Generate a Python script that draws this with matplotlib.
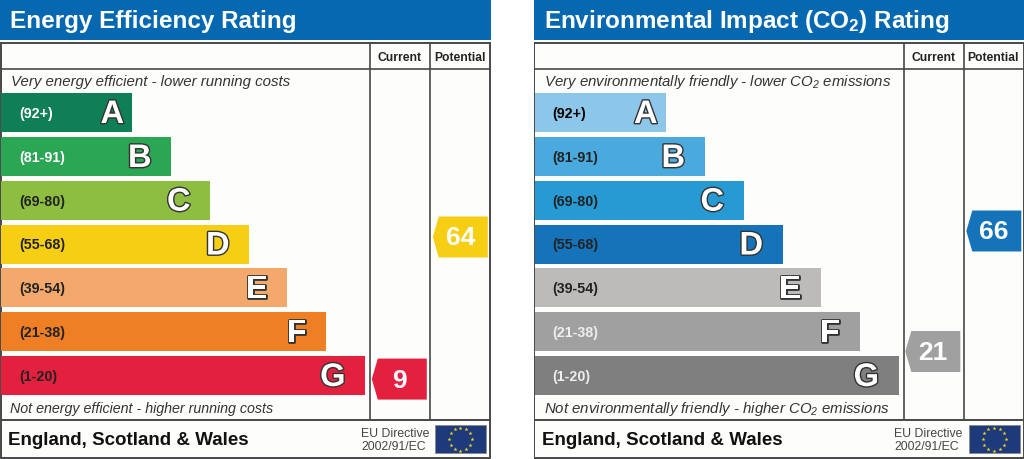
import numpy as np
import matplotlib
matplotlib.use("Agg")
import matplotlib.pyplot as plt
import matplotlib.patheffects as pe
from matplotlib.patches import Polygon, Rectangle

plt.rcParams['font.family'] = ['Liberation Sans', 'DejaVu Sans']
plt.rcParams['mathtext.default'] = 'regular'

# shared bands
letters = ["A", "B", "C", "D", "E", "F", "G"]
ranges = ["(92+)", "(81-91)", "(69-80)", "(55-68)", "(39-54)", "(21-38)", "(1-20)"]
range_low = [92, 81, 69, 55, 39, 21, 1]
range_high = [100, 91, 80, 68, 54, 38, 20]
bar_lengths = [131, 170, 209, 248, 286, 325, 364]

# energy panel
energy_title = "Energy Efficiency Rating"
energy_top = "Very energy efficient - lower running costs"
energy_bottom = "Not energy efficient - higher running costs"
energy_colors = ["#0e7f56", "#2ba655", "#8dbe42", "#f6cf15", "#f3a96b", "#ee7f25", "#e4203f"]
energy_label_colors = ["white", "white", "#222222", "#222222", "#222222", "#222222", "#222222"]
energy_current = 9
energy_potential = 64

# environmental panel
env_title = "Environmental Impact (CO$_2$) Rating"
env_top = "Very environmentally friendly - lower CO$_2$ emissions"
env_bottom = "Not environmentally friendly - higher CO$_2$ emissions"
env_colors = ["#8cc6e8", "#4aa9dd", "#2799d3", "#1573b9", "#bcbbb9", "#a0a0a0", "#7f7f7f"]
env_label_colors = ["black", "#222222", "#222222", "#222222", "#222222", "#eeeeee", "#eeeeee"]
env_current = 21
env_potential = 66

LINE = "#484848"
BLUE = "#0768b2"

band_y = [113.5, 157.5, 201.2, 245, 288.8, 332.5, 376.5]


def rating_y(score, y_centers):
    # the arrow sits inside its band, at a height set by the score
    for low, high, yc in zip(range_low, range_high, y_centers):
        if low <= score <= high:
            return np.interp(score, [low, high], [yc + 19.5, yc - 19.5])
    return y_centers[-1]


def band_color(score, colors):
    for low, high, c in zip(range_low, range_high, colors):
        if low <= score <= high:
            return c
    return colors[-1]


def draw_arrow(ax, score, x_left, colors):
    y = rating_y(score, band_y) + 0.5
    color = band_color(score, colors)
    pts = [(x_left, y), (x_left + 6, y - 20.5), (x_left + 55, y - 20.5),
           (x_left + 55, y + 20.5), (x_left + 6, y + 20.5)]
    ax.add_patch(Polygon(pts, closed=True, fc=color, ec="none", zorder=3))
    ax.text(x_left + 27.5, y + 0.5, str(score), color="white", fontsize=19, fontweight="bold",
            ha="center", va="center", zorder=4)


def draw_flag(ax):
    ax.add_patch(Rectangle((435, 426), 51, 28, fc="#1f3a7a", ec="#8a8a8a", lw=0.6))
    angles = np.arange(12) * np.pi / 6
    ax.scatter(460.5 + 11.5 * np.cos(angles), 440 + 11.5 * np.sin(angles), marker="*",
               s=9, color="#f5d327", linewidths=0, zorder=3)


def draw_panel(ax, title, top, bottom, bottom_size, colors, label_colors, current, potential):
    ax.set_xlim(0, 491)
    ax.set_ylim(460, 0)
    ax.axis("off")

    ax.add_patch(Rectangle((0, 0), 491, 41, fc=BLUE, ec="none"))
    ax.text(10, 21.5, title, color="white", fontsize=17.5, fontweight="bold", ha="left", va="center")

    # frame and table lines
    ax.add_patch(Rectangle((0.9, 44), 489.3, 415, fc="#fdfdfb", ec=LINE, lw=1.4))
    ax.plot([0, 490], [69.5, 69.5], color=LINE, lw=1.2)
    ax.plot([0, 490], [420.5, 420.5], color=LINE, lw=1.4)
    ax.plot([370.3, 370.3], [44, 420], color=LINE, lw=1.2)
    ax.plot([430.3, 430.3], [44, 420], color=LINE, lw=1.2)

    ax.text(400, 58, "Current", fontsize=8.7, fontweight="bold", color="#222222", ha="center", va="center")
    ax.text(460, 58, "Potential", fontsize=8.7, fontweight="bold", color="#222222", ha="center", va="center")

    ax.text(11, 82, top, fontsize=10.8, style="italic", color="#333333", ha="left", va="center")
    ax.text(10, 409, bottom, fontsize=bottom_size, style="italic", color="#333333", ha="left", va="center")

    ax.barh(band_y, bar_lengths, height=39, left=1.5, color=colors, zorder=2)
    for i, letter in enumerate(letters):
        ax.text(19, band_y[i] + 0.5, ranges[i], fontsize=10.3, fontweight="bold", color=label_colors[i],
                ha="left", va="center", zorder=3)
        # A sits closer to its bar end than the others
        pad = 8.5 if letter == "A" else 20
        t = ax.text(bar_lengths[i] + 1.5 - pad, band_y[i] + 2, letter, fontsize=23.5, fontweight="bold",
                    color="white", ha="right", va="center", zorder=3)
        t.set_path_effects([pe.withStroke(linewidth=2, foreground="#333333")])

    draw_arrow(ax, current, 371.8, colors)
    draw_arrow(ax, potential, 432.8, colors)

    ax.text(8, 440.5, "England, Scotland & Wales", fontsize=13.5, fontweight="bold", color="#111111",
            ha="left", va="center")
    ax.text(361, 434.5, "EU Directive", fontsize=8.85, color="#444444", ha="left", va="center")
    ax.text(361, 447.5, "2002/91/EC", fontsize=8.85, color="#444444", ha="left", va="center")
    draw_flag(ax)


fig = plt.figure(figsize=(10.24, 4.6), dpi=100, facecolor="white")
ax_left = fig.add_axes([0, 0, 491 / 1024, 1])
ax_right = fig.add_axes([533.5 / 1024, 0, 491 / 1024, 1])

draw_panel(ax_left, energy_title, energy_top, energy_bottom, 10.3, energy_colors, energy_label_colors,
           energy_current, energy_potential)
draw_panel(ax_right, env_title, env_top, env_bottom, 10.8, env_colors, env_label_colors,
           env_current, env_potential)

fig.savefig("out.png", dpi=100)
